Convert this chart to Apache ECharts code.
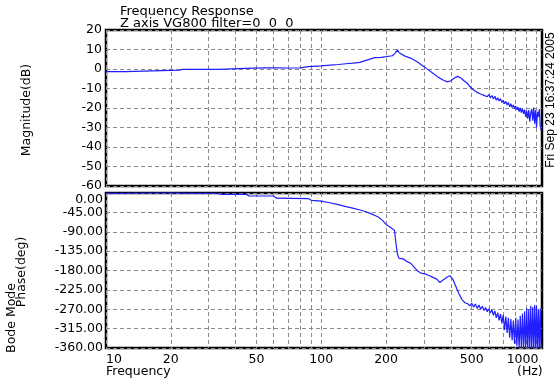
<!DOCTYPE html>
<html>
<head>
<meta charset="utf-8">
<script src="https://cdn.jsdelivr.net/npm/echarts@6/dist/echarts.min.js"></script>
<style>
  html, body { margin: 0; padding: 0; background: #fff; }
  #main { width: 557px; height: 381px; }
</style>
</head>
<body>
<div id="main"></div>
<script>
// frequency response
const magFreq = [10, 12.3, 12.4, 22, 22.5, 33, 33.5, 48, 55, 62, 70, 80, 87, 100, 110, 120, 130, 140, 151, 160, 170, 177, 190, 200, 214, 220, 226, 230, 234, 245, 260, 280, 300, 312, 330, 350, 370, 385, 400, 415, 430, 445, 460, 478, 490,
  500, 510, 520, 530, 540, 550, 560, 570, 580, 590, 600, 610, 620, 630, 640, 650, 660, 670, 680, 690, 700, 710, 720, 730, 740, 750, 760, 770, 780, 790, 800, 810, 820, 830, 840, 850, 860, 870, 880, 890, 900, 910, 920, 930, 940, 950, 960, 970, 980, 990, 1000, 1010, 1020, 1030, 1040, 1050];
const magDb = [-1.3, -1.3, -0.6, -0.6, -0.2, -0.2, 0.3, 0.4, 0.6, 0.6, 0.5, 0.6, 1.2, 1.6, 2.0, 2.3, 2.7, 3.0, 3.4, 4.3, 5.2, 5.8, 6.0, 6.3, 6.8, 8.0, 9.8, 8.3, 7.3, 6.6, 5.6, 3.6, 1.2, -0.2, -2.2, -4.3, -5.8, -6.6, -6.0, -4.6, -3.8, -4.6, -6.0, -7.4, -9.0,
  -9.5, -10.8, -10.2, -12.0, -11.2, -12.8, -11.9, -13.5, -12.6, -14.2, -13.1, -14.8, -13.6, -15.3, -14.0, -16.0, -14.8, -16.4, -15.2, -17.2, -16.0, -17.8, -16.6, -18.5, -17.2, -19.4, -17.8, -19.8, -18.4, -20.4, -19.0, -21.0, -19.5, -21.8, -20.0, -22.4, -20.5, -23.0, -20.8, -24.5, -21.5, -25.5, -21.0, -27.0, -22.5, -20.5, -26.5, -19.8, -28.0, -21.0, -30.0, -22.0, -24.5, -20.5, -29.0, -31.5];

const phaseFreq = [10, 12.3, 12.4, 22, 22.5, 33, 34, 45, 46, 60, 62, 87, 90, 100, 108, 120, 129, 140, 150, 160, 170, 183, 192, 200, 210, 219, 222, 226, 230, 234, 240, 244, 252, 260, 270, 280, 290, 302, 315, 330, 344, 356, 365, 375, 385, 396, 403, 410, 420, 435, 450, 465, 478,
  490, 500, 510, 520, 530, 540, 550, 560, 570, 580, 590, 600, 610, 620, 630, 640, 650, 660, 670, 680, 690, 700, 710, 720, 730, 740, 750, 760, 770, 780, 790, 800, 810, 820, 830, 840, 850, 860, 870, 880, 890, 900, 910, 920, 930, 940, 950, 960, 970, 980, 990, 1000, 1010, 1020, 1030, 1040, 1050];
const phaseDeg = [-0.5, -0.5, 1, 1, -0.5, -0.5, -3, -3, -7, -7, -12, -13, -17, -19, -22, -27, -31, -35, -39, -43, -48, -55, -63, -73, -80, -87, -115, -143, -152, -156, -153, -154, -160, -163, -172, -181, -186, -188, -191, -196, -200, -208, -203, -199, -195, -192, -196, -202, -215, -233, -247, -255, -257,
  -262, -256, -265, -258, -268, -260, -270, -263, -273, -266, -276, -269, -279, -271, -284, -274, -290, -278, -296, -281, -303, -283, -318, -287, -325, -290, -336, -293, -342, -296, -350, -290, -355, -294, -362, -285, -360, -280, -365, -275, -365, -268, -365, -270, -365, -262, -365, -265, -365, -260, -365, -262, -365, -270, -365, -268, -360];

const xGridValues = [10, 20, 30, 40, 50, 60, 70, 80, 90, 100, 200, 300, 400, 500, 600, 700, 800, 900, 1000];
const xLabelValues = [10, 20, 50, 100, 200, 500, 1000];

const FONT = 'DejaVu Sans';
const chart = echarts.init(document.getElementById('main'), null, { renderer: 'canvas' });

const splitStyle = { show: true, lineStyle: { color: '#8a8a8a', type: [4, 3], width: 1 } };

const xAxisBase = {
  type: 'log',
  min: 10,
  max: 1060,
  logBase: 10,
  axisLine: { show: false },
  axisTick: { show: false, customValues: xGridValues },
  splitLine: splitStyle,
  minorSplitLine: { show: false },
};

const options = {
  backgroundColor: '#fff',
  animation: false,
  textStyle: { fontFamily: FONT },
  grid: [
    { left: 106, top: 30, width: 436, height: 156, show: true, borderColor: '#000', borderWidth: 2.5, backgroundColor: 'transparent' },
    { left: 106, top: 193, width: 436, height: 155, show: true, borderColor: '#000', borderWidth: 2.5, backgroundColor: 'transparent' },
  ],
  xAxis: [
    { ...xAxisBase, gridIndex: 0, axisLabel: { show: false } },
    {
      ...xAxisBase,
      gridIndex: 1,
      axisLabel: {
        show: true,
        customValues: xLabelValues,
        color: '#000',
        fontFamily: FONT,
        fontSize: 12.5,
        margin: 5,
        alignMinLabel: 'left',
        formatter(value) {
          return value === 1000 ? '{r|1000}' : String(value);
        },
        rich: { r: { fontFamily: FONT, fontSize: 12.5, color: '#000', padding: [0, 28, 0, 0] } },
      },
    },
  ],
  yAxis: [
    {
      type: 'value', gridIndex: 0, min: -60, max: 20, interval: 10,
      axisLine: { show: false }, axisTick: { show: false },
      splitLine: splitStyle,
      axisLabel: { color: '#000', fontFamily: FONT, fontSize: 12.5, margin: 4 },
    },
    {
      type: 'value', gridIndex: 1, min: -360, max: 0, interval: 45,
      axisLine: { show: false }, axisTick: { show: false },
      splitLine: splitStyle,
      axisLabel: {
        color: '#000', fontFamily: FONT, fontSize: 12.5, margin: 3,
        verticalAlignMaxLabel: 'top',
        formatter(value) { return value.toFixed(2); },
      },
    },
  ],
  series: [
    {
      type: 'line', name: 'Magnitude', xAxisIndex: 0, yAxisIndex: 0,
      data: magFreq.map((f, i) => [f, magDb[i]]),
      showSymbol: false, symbol: 'none', clip: true,
      lineStyle: { color: '#1f1fff', width: 1.2 },
    },
    {
      type: 'line', name: 'Phase', xAxisIndex: 1, yAxisIndex: 1,
      data: phaseFreq.map((f, i) => [f, phaseDeg[i]]),
      showSymbol: false, symbol: 'none', clip: true,
      lineStyle: { color: '#1f1fff', width: 1.2 },
    },
  ],
  graphic: [
    { type: 'text', left: 120, top: 5, style: { text: 'Frequency Response', font: `13px ${FONT}`, fill: '#000' } },
    { type: 'text', left: 120, top: 17, style: { text: 'Z axis VG800 filter=0  0  0', font: `13px ${FONT}`, fill: '#000' } },
    { type: 'text', x: 27, y: 110, rotation: Math.PI / 2, style: { text: 'Magnitude(dB)', font: `12.5px ${FONT}`, fill: '#000', align: 'center', verticalAlign: 'middle' } },
    { type: 'text', x: 22, y: 272, rotation: Math.PI / 2, style: { text: 'Phase(deg)', font: `12.5px ${FONT}`, fill: '#000', align: 'center', verticalAlign: 'middle' } },
    { type: 'text', x: 12, y: 318, rotation: Math.PI / 2, style: { text: 'Bode Mode', font: `12.5px ${FONT}`, fill: '#000', align: 'center', verticalAlign: 'middle' } },
    { type: 'text', x: 551, y: 100, rotation: Math.PI / 2, style: { text: 'Fri Sep 23 16:37:24 2005', font: '12px "Liberation Sans"', fill: '#000', align: 'center', verticalAlign: 'middle' } },
    { type: 'text', left: 106, top: 365, style: { text: 'Frequency', font: `12.5px ${FONT}`, fill: '#000' } },
    { type: 'text', left: 517, top: 365, style: { text: '(Hz)', font: `12.5px ${FONT}`, fill: '#000' } },
  ],
};

chart.setOption(options);
</script>
</body>
</html>
